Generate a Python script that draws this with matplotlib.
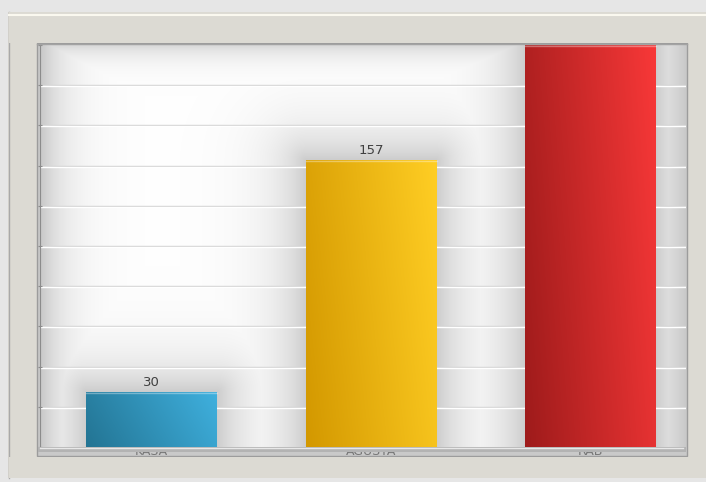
import numpy as np
import matplotlib
matplotlib.use("Agg")
import matplotlib.pyplot as plt
from matplotlib.patches import Rectangle
from matplotlib.colors import to_rgb

# datos del grafico
categorias = ["KASA", "AGUSTA", "RAB"]
valores = [30, 157, 260]
color_izq = ["#237493", "#d39800", "#9e1b1b"]
color_der = ["#3fb0de", "#ffce24", "#f83838"]

W, H = 706, 482
y_max = 220
paso = 22
ancho = 0.596

def fx(x):
    return x / W

def fy(y):
    return 1 - y / H

fig = plt.figure(figsize=(W / 100, H / 100), dpi=100)
fig.patch.set_facecolor("#e6e6e6")

# marco exterior
fig.add_artist(Rectangle((fx(8), fy(478)), fx(706 - 8), (478 - 12) / H,
                         transform=fig.transFigure, fc="#dcdad3", ec="none", zorder=-3))
fig.add_artist(plt.Line2D([fx(8.5), fx(8.5)], [fy(12), fy(478)], transform=fig.transFigure,
                          color="#a9a9a9", lw=1, zorder=-2))
# borde interior
fig.add_artist(Rectangle((fx(37), fy(456)), fx(687 - 37), (456 - 43) / H,
                         transform=fig.transFigure, fc="#c9c9c9", ec="#9c9c9c", lw=1, zorder=-1))

ax = fig.add_axes([fx(40), fy(447), fx(686 - 40), (447 - 45) / H])
x = np.arange(len(categorias))
x0, x1 = -0.5075, 2.433
ax.set_xlim(x0, x1)
ax.set_ylim(0, y_max)

# fondo con sombras suaves alrededor de las barras
px_x = 219.7
px_y = (447 - 45) / y_max
gx = np.linspace(x0, x1, 646)
gy = np.linspace(0, y_max, 402)
XX, YY = np.meshgrid(gx, gy)
sombra = np.zeros_like(XX)
for i, v in enumerate(valores):
    dx = np.maximum(0, np.abs(XX - i) - ancho / 2) * px_x
    dy = np.maximum(0, YY - v) * px_y
    d = np.hypot(dx, dy)
    sombra = np.maximum(sombra, 0.2 * np.exp(-d / 32))
borde_izq = (XX - x0) * px_x
borde_der = (x1 - XX) * px_x
borde_sup = (y_max - YY) * px_y
sombra = np.maximum(sombra, 0.22 * np.exp(-borde_izq / 26))
sombra = np.maximum(sombra, 0.21 * np.exp(-borde_der / 40))
sombra = np.maximum(sombra, 0.15 * np.exp(-borde_sup / 14))
fondo = 1 - sombra
img = np.dstack([fondo, fondo, fondo])
ax.imshow(img, extent=(x0, x1, 0, y_max), origin="lower", aspect="auto", zorder=0,
          interpolation="bilinear")

# lineas de la cuadricula
for g in np.arange(paso, y_max, paso):
    ax.axhline(g, color="#d3d3d3", lw=1, zorder=1)
    ax.axhline(g - 0.6, color="#ffffff", lw=1, zorder=1)

# barras con degradado
barras = ax.bar(x, valores, width=ancho, color="none", zorder=2)
for i, (b, v) in enumerate(zip(barras, valores)):
    c0 = np.array(to_rgb(color_izq[i]))
    c1 = np.array(to_rgb(color_der[i]))
    tx = np.linspace(0, 1, 100)[None, :]
    ty = np.linspace(1, 0, 100)[:, None]
    t = np.clip(0.8 * tx + 0.2 * ty, 0, 1)
    grad = c0[None, None, :] * (1 - t[..., None]) + c1[None, None, :] * t[..., None]
    im = ax.imshow(grad, extent=(i - ancho / 2, i + ancho / 2, 0, min(v, y_max)),
                   aspect="auto", zorder=2, interpolation="bilinear")
    im.set_clip_path(b)
    ax.plot([i - ancho / 2, i + ancho / 2], [min(v, y_max) - 0.4] * 2,
            color="white", alpha=0.35, lw=1, zorder=3)
    ax.annotate(str(v), (i, min(v, y_max)), xytext=(0, 2 if v < y_max else -1),
                textcoords="offset points", ha="center", va="bottom",
                fontsize=9.5, color="#404040", zorder=4, annotation_clip=False,
                family=["Liberation Sans Narrow", "DejaVu Sans"])

ax.set_xticks([])
ax.set_yticks(np.arange(0, y_max + 1, paso))
ax.set_yticklabels([])
ax.tick_params(axis="y", length=3, direction="inout", color="#8c8c8c")
for s in ["top", "right", "bottom"]:
    ax.spines[s].set_visible(False)
ax.spines["left"].set_color("#8c8c8c")

# banda superior que tapa la etiqueta recortada
fig.add_artist(Rectangle((fx(9), fy(43)), 1, (43 - 12) / H, transform=fig.transFigure,
                         fc="#dcdad3", ec="none", zorder=5))
fig.add_artist(plt.Line2D([fx(9), 1], [fy(15), fy(15)], transform=fig.transFigure,
                          color="#faf8ef", lw=1.5, zorder=6))
fig.add_artist(plt.Line2D([fx(37), fx(687)], [fy(43.5), fy(43.5)], transform=fig.transFigure,
                          color="#a3a3a3", lw=1, zorder=6))

# etiquetas de categoria medio ocultas detras del suelo
for i, c in enumerate(categorias):
    xp = 151.5 + i * 219.7
    fig.text(fx(xp), fy(445), c, ha="center", va="top", fontsize=9, color="#777777",
             zorder=-0.5)
fig.add_artist(Rectangle((fx(38), fy(452)), fx(686 - 38), 5 / H, transform=fig.transFigure,
                         fc="#b3b3b3", ec="none", zorder=6))
fig.add_artist(plt.Line2D([fx(40), fx(683)], [fy(447.5), fy(447.5)], transform=fig.transFigure,
                          color="#e8e8e8", lw=1, zorder=7))
fig.add_artist(Rectangle((fx(9), fy(478)), 1, (478 - 456.5) / H, transform=fig.transFigure,
                         fc="#dcdad3", ec="none", zorder=6))

fig.savefig("out.png", dpi=100)
